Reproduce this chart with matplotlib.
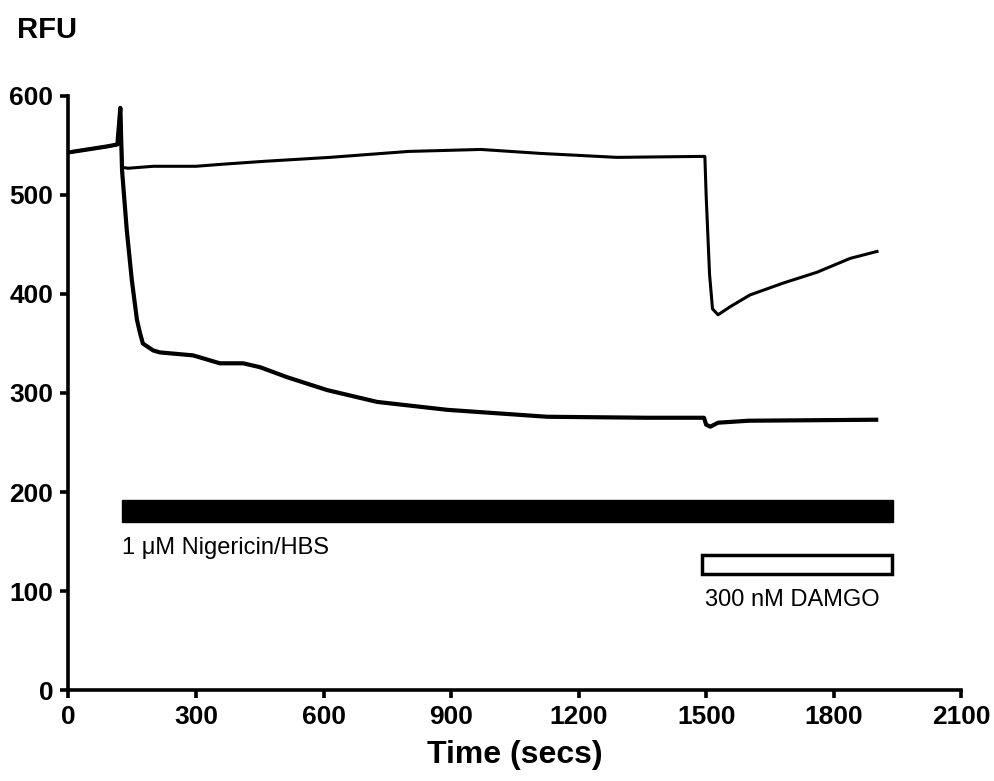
import numpy as np
import matplotlib
matplotlib.use('Agg')
import matplotlib.pyplot as plt
from matplotlib.patches import Rectangle

plt.rcParams['font.family'] = ['Liberation Sans', 'DejaVu Sans']

# traces (time in secs, RFU)
t_upper = [0, 30, 60, 90, 115, 122, 126, 140, 200, 300, 360, 460, 615, 800, 970,
           1110, 1290, 1497, 1500, 1508, 1515, 1528, 1556, 1603, 1681, 1761, 1839, 1902]
rfu_upper = [543, 545, 547, 549, 551, 588, 528, 527, 529, 529, 531, 534, 538, 544, 546,
             542, 538, 539, 500, 420, 385, 379, 387, 399, 411, 422, 436, 443]

t_lower = [0, 30, 60, 90, 115, 122, 126, 137, 149, 161, 168, 175, 199, 215, 293, 356,
           411, 451, 514, 608, 726, 891, 1126, 1361, 1495, 1500, 1510, 1528, 1600, 1900]
rfu_lower = [543, 545, 547, 549, 551, 588, 525, 465, 414, 374, 361, 350, 343, 341, 338, 330,
             330, 326, 316, 303, 291, 283, 276, 275, 275, 268, 266, 270, 272, 273]

# drug application bars: (start, end, label)
nig_bar = (126, 1940, '1 \u03bcM Nigericin/HBS')
damgo_bar = (1490, 1938, '300 nM DAMGO')

fig = plt.figure(figsize=(9.94, 7.81), dpi=100)
ax = fig.add_axes([0.0689, 0.1165, 0.8981, 0.7606])

ax.plot(t_lower, rfu_lower, color='black', lw=3.0)
ax.plot(t_upper, rfu_upper, color='black', lw=2.2)

# Nigericin bar (filled)
ax.add_patch(Rectangle((nig_bar[0], 170), nig_bar[1] - nig_bar[0], 22,
                       facecolor='black', edgecolor='black', lw=1))
ax.text(nig_bar[0], 143, nig_bar[2], fontsize=17, ha='left', va='center')

# DAMGO bar (open)
ax.add_patch(Rectangle((damgo_bar[0], 117), damgo_bar[1] - damgo_bar[0], 19,
                       facecolor='white', edgecolor='black', lw=2.5))
ax.text(damgo_bar[0] + 8, 91, damgo_bar[2], fontsize=17, ha='left', va='center')

ax.set_xlim(0, 2100)
ax.set_ylim(0, 600)
ax.set_xticks(np.arange(0, 2101, 300))
ax.set_yticks(np.arange(0, 601, 100))

for s in ['top', 'right']:
    ax.spines[s].set_visible(False)
for s in ['left', 'bottom']:
    ax.spines[s].set_linewidth(2.6)
ax.tick_params(width=2.6, length=6, direction='out', pad=5, labelsize=19)
for lab in ax.get_xticklabels() + ax.get_yticklabels():
    lab.set_fontweight('bold')

ax.set_xlabel('Time (secs)', fontsize=23, fontweight='bold', labelpad=8)
fig.text(0.017, 0.951, 'RFU', fontsize=21, fontweight='bold', ha='left', va='baseline')

fig.savefig('out.png', dpi=100)
